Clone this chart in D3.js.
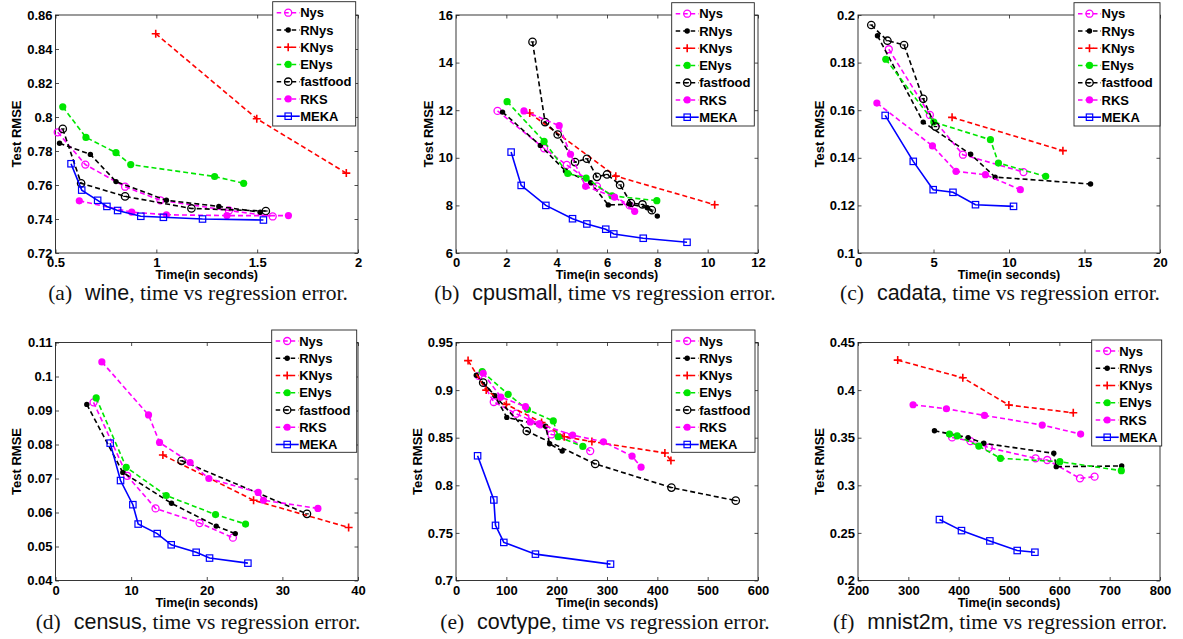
<!DOCTYPE html>
<html><head><meta charset="utf-8">
<script src="https://cdn.jsdelivr.net/npm/d3@7"></script>
<style>body{margin:0;background:#fff;} svg{display:block;}</style>
</head><body>
<svg id="c" width="1183" height="639"></svg>
<script>
// ---------- data ----------
const seriesNames = ["Nys","RNys","KNys","ENys","fastfood","RKS","MEKA"];
const datasetNames = ["wine","cpusmall","cadata","census","covtype","mnist2m"];
const panelLetters = ["a","b","c","d","e","f"];
const xLabel = "Time(in seconds)";
const yLabel = "Test RMSE";
const captionTail = ", time vs regression error.";

const wineXTicks = [0.5,1,1.5,2];
const wineYTicks = [0.72,0.74,0.76,0.78,0.8,0.82,0.84,0.86];
const cpuXTicks = [0,2,4,6,8,10,12];
const cpuYTicks = [6,8,10,12,14,16];
const caXTicks = [0,5,10,15,20];
const caYTicks = [0.1,0.12,0.14,0.16,0.18,0.2];
const ceXTicks = [0,10,20,30,40];
const ceYTicks = [0.04,0.05,0.06,0.07,0.08,0.09,0.1,0.11];
const covXTicks = [0,100,200,300,400,500,600];
const covYTicks = [0.7,0.75,0.8,0.85,0.9,0.95];
const mnXTicks = [200,300,400,500,600,700,800];
const mnYTicks = [0.2,0.25,0.3,0.35,0.4,0.45];

// (a) wine
const wineNys = [[0.511,0.791],[0.648,0.772],[0.845,0.759],[1.02,0.751],[1.36,0.745],[1.577,0.7415]];
const wineRNys = [[0.52,0.7846],[0.673,0.778],[0.80,0.762],[1.05,0.751],[1.31,0.7474],[1.515,0.744]];
const wineKNys = [[0.997,0.849],[1.498,0.799],[1.942,0.767]];
const wineENys = [[0.536,0.806],[0.651,0.788],[0.80,0.779],[0.873,0.772],[1.289,0.765],[1.433,0.761]];
const wineFastfood = [[0.536,0.793],[0.627,0.761],[0.845,0.7533],[1.174,0.7462],[1.543,0.7447]];
const wineRKS = [[0.618,0.7507],[0.878,0.744],[1.05,0.7425],[1.35,0.742],[1.655,0.742]];
const wineMEKA = [[0.577,0.7725],[0.63,0.757],[0.709,0.751],[0.755,0.7474],[0.808,0.745],[0.923,0.7416],[1.035,0.741],[1.229,0.740],[1.531,0.7394]];

// (b) cpusmall
const cpuNys = [[1.65,11.97],[3.5,10.4],[4.4,9.7],[5.6,8.8],[6.9,8.0]];
const cpuRNys = [[1.85,11.92],[3.35,10.52],[4.35,9.45],[5.35,8.95],[6.05,8.02],[6.9,8.05],[7.6,7.9],[8.0,7.55]];
const cpuKNys = [[2.93,11.88],[6.35,9.23],[10.28,8.03]];
const cpuENys = [[2.03,12.36],[3.5,10.69],[4.44,9.34],[5.17,9.15],[6.2,8.4],[7.98,8.2]];
const cpuFastfood = [[3.04,14.87],[3.54,11.5],[4.04,10.98],[4.73,9.82],[5.2,9.96],[5.6,9.2],[6.0,9.3],[6.52,8.86],[6.95,8.1],[7.41,8.04],[7.78,7.8]];
const cpuRKS = [[2.7,11.97],[4.1,11.35],[4.55,10.15],[5.15,8.8],[6.3,8.35],[7.1,7.75]];
const cpuMEKA = [[2.19,10.24],[2.59,8.84],[3.57,8.0],[4.63,7.44],[5.2,7.22],[5.95,7.0],[6.27,6.8],[7.44,6.62],[9.18,6.45]];

// (c) cadata
const caNys = [[2.04,0.1856],[4.76,0.158],[6.95,0.1413],[10.96,0.134]];
const caRNys = [[1.29,0.1913],[4.32,0.155],[7.46,0.1415],[9.08,0.1319],[15.4,0.129]];
const caKNys = [[6.23,0.157],[13.57,0.143]];
const caENys = [[1.84,0.1814],[5.02,0.155],[8.77,0.1476],[9.3,0.1378],[12.43,0.1322]];
const caFastfood = [[0.88,0.1958],[1.95,0.1892],[3.05,0.1874],[4.32,0.1648],[5.13,0.1531]];
const caRKS = [[1.25,0.163],[4.93,0.145],[6.49,0.1343],[8.44,0.1329],[10.75,0.1266]];
const caMEKA = [[1.8,0.1578],[3.66,0.1385],[4.98,0.1266],[6.29,0.1255],[7.78,0.1203],[10.3,0.1196]];

// (d) census
const ceNys = [[5.03,0.0924],[9.48,0.0708],[13.23,0.0612],[19.05,0.0569],[23.46,0.0526]];
const ceRNys = [[4.14,0.0918],[8.9,0.0718],[15.34,0.0627],[21.25,0.056],[23.77,0.0538]];
const ceKNys = [[14.2,0.0769],[26.19,0.0636],[38.76,0.0556]];
const ceENys = [[5.38,0.0937],[9.35,0.0733],[14.64,0.065],[21.16,0.0594],[25.13,0.0566]];
const ceFastfood = [[16.67,0.0752],[33.25,0.0596]];
const ceRKS = [[6.13,0.1043],[12.3,0.0887],[13.76,0.0806],[17.8,0.0747],[20.28,0.07],[26.8,0.0659],[27.5,0.0636],[34.7,0.0612]];
const ceMEKA = [[7.23,0.0804],[8.6,0.0694],[10.23,0.0623],[10.93,0.0566],[13.45,0.0538],[15.3,0.0505],[18.6,0.0483],[20.37,0.0466],[25.44,0.0451]];

// (e) covtype
const covNys = [[45,0.915],[75,0.8875],[119.5,0.8752],[167.7,0.864],[189.4,0.8534],[217.8,0.8517],[266.7,0.8359]];
const covRNys = [[40.3,0.9156],[77.2,0.8942],[101,0.8713],[178,0.862],[186,0.8436],[211,0.8359]];
const covKNys = [[24,0.931],[60,0.900],[100,0.885],[170,0.866],[215,0.851],[270,0.846],[415,0.834],[427,0.826]];
const covENys = [[52,0.9194],[103.6,0.8956],[141.9,0.8796],[193.3,0.8676],[203,0.851],[252,0.8408]];
const covFastfood = [[54,0.9078],[140.6,0.857],[276.6,0.8225],[428,0.7976],[555.8,0.7839]];
const covRKS = [[54,0.9177],[89,0.8927],[138,0.8826],[147.5,0.8666],[165,0.8645],[231.7,0.8527],[293,0.8457],[349.8,0.8306],[367.7,0.819]];
const covMEKA = [[42.9,0.831],[75.2,0.7846],[78.5,0.7579],[95,0.74],[157.8,0.7277],[307,0.7172]];

// (f) mnist2m
const mnNys = [[387,0.3503],[423.5,0.3464],[460,0.3395],[552.8,0.3283],[576,0.3266],[641,0.3073],[670,0.3091]];
const mnRNys = [[351.9,0.3573],[418.8,0.3501],[450,0.3441],[589,0.3336],[593.9,0.3196],[723.9,0.3203]];
const mnKNys = [[278.9,0.4315],[408.2,0.4129],[499.7,0.3843],[627.7,0.3762]];
const mnENys = [[381.7,0.3538],[397,0.352],[440,0.3412],[483,0.3283],[601,0.3248],[723.2,0.3154]];
const mnRKS = [[309.4,0.3846],[375.7,0.3804],[451.3,0.3734],[566,0.3633],[642.3,0.3538]];
const mnMEKA = [[361.8,0.264],[405.6,0.2524],[462,0.2416],[516.3,0.2315],[551.5,0.2297]];

// ---------- styles ----------
const styles = {
  Nys:{color:"#ff00ff", dash:"5,3", marker:"circleOpen"},
  RNys:{color:"#000000", dash:"5,3", marker:"dot"},
  KNys:{color:"#ff0000", dash:"5,3", marker:"plus"},
  ENys:{color:"#00e600", dash:"5,3", marker:"circleFilled"},
  fastfood:{color:"#000000", dash:"5,3", marker:"circleOpenDot"},
  RKS:{color:"#ff00ff", dash:"5,3", marker:"circleFilled"},
  MEKA:{color:"#0000ff", dash:null, marker:"square"}
};

const colLeft = [55.5, 456, 858], colRight = [358, 758, 1160];
const rowTop = [15, 342.5], rowBottom = [253, 580.5];
const capCenter = [198, 605, 1000], capBase = [300, 628.5];

const panels = [
  {xd:[0.5,2], yd:[0.72,0.86], xt:wineXTicks, yt:wineYTicks,
   s:{Nys:wineNys,RNys:wineRNys,KNys:wineKNys,ENys:wineENys,fastfood:wineFastfood,RKS:wineRKS,MEKA:wineMEKA},
   leg:[272.7,1.7,83,124.3]},
  {xd:[0,12], yd:[6,16], xt:cpuXTicks, yt:cpuYTicks,
   s:{Nys:cpuNys,RNys:cpuRNys,KNys:cpuKNys,ENys:cpuENys,fastfood:cpuFastfood,RKS:cpuRKS,MEKA:cpuMEKA},
   leg:[671.7,2.7,82.6,123.3]},
  {xd:[0,20], yd:[0.1,0.2], xt:caXTicks, yt:caYTicks,
   s:{Nys:caNys,RNys:caRNys,KNys:caKNys,ENys:caENys,fastfood:caFastfood,RKS:caRKS,MEKA:caMEKA},
   leg:[1074,2.7,86,123.3]},
  {xd:[0,40], yd:[0.04,0.11], xt:ceXTicks, yt:ceYTicks,
   s:{Nys:ceNys,RNys:ceRNys,KNys:ceKNys,ENys:ceENys,fastfood:ceFastfood,RKS:ceRKS,MEKA:ceMEKA},
   leg:[271.7,330,85,122.3]},
  {xd:[0,600], yd:[0.7,0.95], xt:covXTicks, yt:covYTicks,
   s:{Nys:covNys,RNys:covRNys,KNys:covKNys,ENys:covENys,fastfood:covFastfood,RKS:covRKS,MEKA:covMEKA},
   leg:[671.7,330,83.3,122.3]},
  {xd:[200,800], yd:[0.2,0.45], xt:mnXTicks, yt:mnYTicks,
   s:{Nys:mnNys,RNys:mnRNys,KNys:mnKNys,ENys:mnENys,RKS:mnRKS,MEKA:mnMEKA},
   leg:[1091.7,340,70,106]}
];

const svg = d3.select("#c");
const fmt = d3.format("~g");
const FONT = "'Liberation Sans', Arial, Helvetica, sans-serif";

function drawMarker(g, type, cx, cy, color) {
  if (type === "circleOpen") {
    g.append("circle").attr("cx",cx).attr("cy",cy).attr("r",3.5)
      .attr("fill","none").attr("stroke",color).attr("stroke-width",1.3);
  } else if (type === "circleOpenDot") {
    g.append("circle").attr("cx",cx).attr("cy",cy).attr("r",3.7)
      .attr("fill","none").attr("stroke",color).attr("stroke-width",1.3);
    g.append("line").attr("x1",cx-1.8).attr("x2",cx+1.8).attr("y1",cy).attr("y2",cy)
      .attr("stroke",color).attr("stroke-width",1.2);
  } else if (type === "dot") {
    g.append("circle").attr("cx",cx).attr("cy",cy).attr("r",2.7).attr("fill",color);
  } else if (type === "circleFilled") {
    g.append("circle").attr("cx",cx).attr("cy",cy).attr("r",3.6).attr("fill",color);
  } else if (type === "plus") {
    g.append("path").attr("d",`M${cx-4},${cy}H${cx+4}M${cx},${cy-4}V${cy+4}`)
      .attr("stroke",color).attr("stroke-width",1.6).attr("fill","none");
  } else if (type === "square") {
    g.append("rect").attr("x",cx-3.2).attr("y",cy-3.2).attr("width",6.4).attr("height",6.4)
      .attr("fill","none").attr("stroke",color).attr("stroke-width",1.2);
  }
}

panels.forEach((p, i) => {
  const col = i % 3, row = Math.floor(i / 3);
  const L = colLeft[col], R = colRight[col], T = rowTop[row], B = rowBottom[row];
  const x = d3.scaleLinear().domain(p.xd).range([L, R]);
  const y = d3.scaleLinear().domain(p.yd).range([B, T]);
  const g = svg.append("g");

  const ax = (sel) => sel.selectAll("text").attr("font-family",FONT).attr("font-size","13px")
      .attr("font-weight","bold").attr("fill","#000");
  const bx = g.append("g").attr("transform",`translate(0,${B})`)
    .call(d3.axisBottom(x).tickValues(p.xt).tickSize(-3.5).tickPadding(5).tickFormat(fmt));
  ax(bx);
  const tx = g.append("g").attr("transform",`translate(0,${T})`)
    .call(d3.axisTop(x).tickValues(p.xt).tickSize(-3.5).tickFormat(""));
  const ly = g.append("g").attr("transform",`translate(${L},0)`)
    .call(d3.axisLeft(y).tickValues(p.yt).tickSize(-3.5).tickPadding(3).tickFormat(fmt));
  ax(ly);
  const ry = g.append("g").attr("transform",`translate(${R},0)`)
    .call(d3.axisRight(y).tickValues(p.yt).tickSize(-3.5).tickFormat(""));
  [bx,tx,ly,ry].forEach(a => { a.select(".domain").remove(); a.selectAll("line").attr("stroke","#222").attr("stroke-width",0.8); });
  g.append("rect").attr("x",L).attr("y",T).attr("width",R-L).attr("height",B-T)
    .attr("fill","none").attr("stroke","#222").attr("stroke-width",0.9);

  let maxW = 0;
  ly.selectAll("text").each(function(){ maxW = Math.max(maxW, this.getComputedTextLength()); });
  const ylx = L - 3 - maxW - 6;
  g.append("text").attr("transform",`translate(${ylx},${(T+B)/2}) rotate(-90)`)
    .attr("text-anchor","middle").attr("font-family",FONT).attr("font-size","13px")
    .attr("font-weight","bold").text(yLabel);
  g.append("text").attr("x",(L+R)/2).attr("y",B+26).attr("text-anchor","middle")
    .attr("font-family",FONT).attr("font-size","12.5px").attr("font-weight","bold").text(xLabel);

  const line = d3.line().x(d => x(d[0])).y(d => y(d[1]));
  const names = seriesNames.filter(n => p.s[n]);
  names.forEach(n => {
    const st = styles[n];
    g.append("path").datum(p.s[n]).attr("d",line).attr("fill","none")
      .attr("stroke",st.color).attr("stroke-width",1.6)
      .attr("stroke-dasharray",st.dash);
    const mg = g.append("g");
    p.s[n].forEach(d => drawMarker(mg, st.marker, x(d[0]), y(d[1]), st.color));
  });

  const [lx, lyy, lw, lh] = p.leg;
  const lg = g.append("g");
  lg.append("rect").attr("x",lx).attr("y",lyy).attr("width",lw).attr("height",lh)
    .attr("fill","#fff").attr("stroke","#222").attr("stroke-width",0.9);
  names.forEach((n, k) => {
    const st = styles[n];
    const ey = lyy + 11 + k * 17.25;
    lg.append("line").attr("x1",lx+4).attr("x2",lx+27).attr("y1",ey).attr("y2",ey)
      .attr("stroke",st.color).attr("stroke-width",1.6).attr("stroke-dasharray",st.dash ? "4.5,3" : null);
    drawMarker(lg, st.marker, lx+15.5, ey, st.color);
    lg.append("text").attr("x",lx+27.5).attr("y",ey+4.6).attr("font-family",FONT)
      .attr("font-size","13px").attr("font-weight","bold").text(n);
  });

  // caption
  const cap = svg.append("text").attr("x",capCenter[col]).attr("y",capBase[row])
    .attr("text-anchor","middle").attr("font-size","21.5px").attr("fill","#111")
    .attr("font-family","'Liberation Serif','Times New Roman',serif");
  cap.append("tspan").text(`(${panelLetters[i]})`);
  cap.append("tspan").attr("dx",13).attr("font-family",FONT).text(datasetNames[i]);
  cap.append("tspan").text(captionTail);
});
</script>
</body></html>
